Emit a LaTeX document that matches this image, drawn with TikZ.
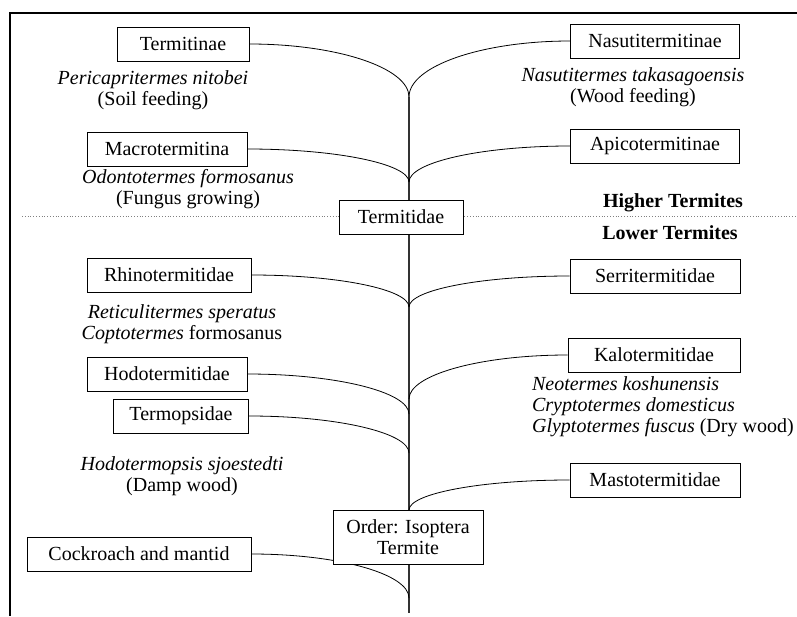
\documentclass[tikz,border=0pt]{standalone}
\usepackage{fontspec}
\setmainfont{Liberation Serif}
\usetikzlibrary{calc,backgrounds}

\tikzset{
  taxon/.style={draw, fill=white, minimum height=17pt, inner sep=1pt},
  species/.style={align=center},
  group/.style={font=\bfseries},
  trunk/.style={line width=0.7pt, black!80},
  % horizontal out of the box, vertical into the trunk
  branch/.style={to path={.. controls ($(\tikztostart)!0.55!(\tikztostart -| \tikztotarget)$)
      and ($(\tikztotarget)!0.55!(\tikztostart -| \tikztotarget)$) .. (\tikztotarget)}},
}

\begin{document}
\begin{tikzpicture}[x=0.5pt,y=-0.5pt,font=\fontsize{10}{10.5}\selectfont]
  \useasboundingbox (0,0) rectangle (797,616);

  % frame
  \draw[line width=1.2pt] (797,13) -- (10,13) -- (10,616);

  % family boxes
  \foreach \name/\x/\y/\w/\txt in {
    termitinae/183/44/66/Termitinae,
    macro/167/149/80/Macrotermitina,
    nasuti/655/41/84.5/Nasutitermitinae,
    apico/655/146/84.5/Apicotermitinae,
    termitidae/401/217/62/Termitidae,
    rhino/169/275/82/Rhinotermitidae,
    serri/655/276/85/Serritermitidae,
    hodo/167/374/80/Hodotermitidae,
    kalo/654/355/86/Kalotermitidae,
    termop/181/416/67.5/Termopsidae,
    masto/655/480/85/Mastotermitidae,
    cockroach/139/554/112/Cockroach and mantid
  }
    \node[taxon, minimum width=\w pt] (\name) at (\x,\y) {\txt};
  \node[taxon, minimum width=75pt, minimum height=27pt, align=center] (order) at (408,537) {Order: Isoptera\\Termite};

  % species and feeding
  \node[species] (pericapri) at (153,90) {\textit{Pericapritermes nitobei}\\(Soil feeding)};
  \node[species] (odonto) at (188,189) {\textit{Odontotermes formosanus}\\(Fungus growing)};
  \node[species] (takasago) at (633,87) {\textit{Nasutitermes takasagoensis}\\(Wood feeding)};
  \node[species] (reticuli) at (182,324) {\textit{Reticulitermes speratus}\\\textit{Coptotermes} formosanus};
  \node[species] (sjoestedti) at (182,476) {\textit{Hodotermopsis sjoestedti}\\(Damp wood)};
  \node[species, align=left, anchor=west] (neotermes) at (525,407)
    {\textit{Neotermes koshunensis}\\\textit{Cryptotermes domesticus}\\\textit{Glyptotermes fuscus} (Dry wood)};

  \node[group] (higher) at (673,203) {Higher Termites};
  \node[group] (lower) at (670,233) {Lower Termites};

  % forks on the trunk
  \foreach \name/\y in {tip/97, forkA/97, forkB/182, forkC/307, forkD/399,
                        forkE/414, forkF/453, forkG/510, forkH/598, root/613}
    \coordinate (\name) at (409,\y);

  \begin{scope}[on background layer]
    \draw[gray, densely dotted] (22,216) -- (797,216);
    \draw[trunk] (tip) -- (root);
    \foreach \from/\to in {termitinae.east/forkA, nasuti.west/forkA,
        macro.east/forkB, apico.west/forkB, rhino.east/forkC, serri.west/forkC,
        kalo.west/forkD, hodo.east/forkE, termop.east/forkF,
        masto.west/forkG, cockroach.east/forkH}
      \draw (\from) to[branch] (\to);
  \end{scope}
\end{tikzpicture}
\end{document}
